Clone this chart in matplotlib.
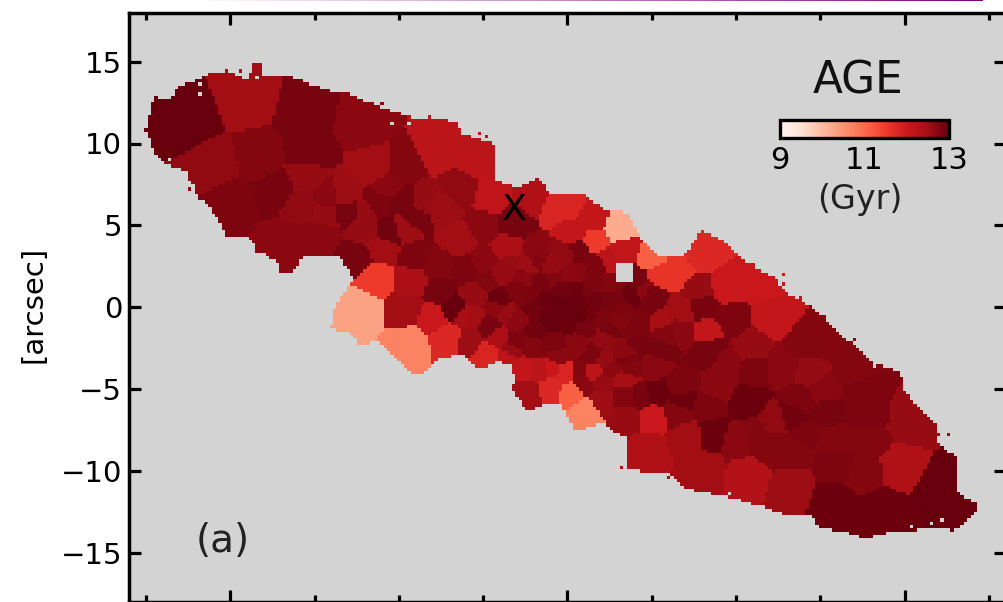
import numpy as np
import matplotlib
matplotlib.use("Agg")
import matplotlib.pyplot as plt
from matplotlib.colors import LinearSegmentedColormap
from matplotlib.path import Path

# galaxy footprint on the sky, arcsec
edge_x = [-24.5, -25.0, -24.5, -23.8, -22.7, -22.3, -21.9, -21.45, -20.55, -20.15, -18.95, -18.35, -17.2, -17.1,
          -16.4, -15.65, -13.6, -12.7, -13.45, -13.85, -14.05, -12.85, -12.4, -11.25, -10.3, -9.1, -8.6, -7.65,
          -6.15, -5.45, -4.7, -4.1, -3.4, -3.1, -3.25, -2.5, -2.05, -1.5, -0.4, 0.45, 1.2, 2.15, 3.0, 3.55,
          3.55, 3.25, 5.9, 6.85, 9.5, 11.6, 13.2, 14.55, 14.8, 16.6, 17.75, 19.3, 23.3, 24.3, 24.35, 23.6,
          23.0, 23.0, 21.9, 21.9, 20.9, 19.9, 19.75, 18.15, 17.35, 16.35, 15.15, 14.1, 13.05, 12.2, 10.65, 9.5,
          8.0, 6.85, 5.5, 4.3, 3.75, 3.15, 2.25, 0.95, -0.4, -1.0, -1.8, -2.95, -4.25, -4.25, -6.35, -6.5,
          -7.7, -8.9, -11.1, -13.05, -14.2, -15.4, -16.25, -18.0, -18.2, -18.65, -18.9, -19.95, -21.15, -21.75,
          -23.1, -23.5]
edge_y = [12.8, 10.8, 9.4, 8.7, 8.35, 7.75, 6.5, 6.35, 5.1, 4.25, 4.25, 3.5, 2.7, 2.05,
          2.05, 3.0, 3.15, 1.75, 0.55, -0.2, -1.3, -1.6, -2.3, -2.15, -3.05, -4.15, -4.15, -3.05,
          -2.95, -3.65, -3.65, -3.35, -3.55, -4.25, -5.05, -6.3, -6.3, -6.0, -6.0, -7.5, -7.4, -7.0, -7.8, -8.0,
          -9.95, -9.95, -10.1, -11.05, -11.6, -12.2, -12.8, -12.8, -13.4, -13.8, -14.1, -13.7, -13.4, -12.4, -11.9, -11.75,
          -11.05, -9.15, -8.3, -7.2, -6.3, -4.95, -4.0, -3.4, -2.6, -1.85, -0.6, 0.25, 0.85, 1.85, 2.7, 3.9,
          4.7, 3.05, 3.05, 4.25, 5.5, 5.9, 5.9, 6.85, 6.85, 6.95, 7.85, 7.3, 7.75, 9.9, 10.6, 11.3,
          11.5, 11.5, 12.2, 13.05, 13.2, 13.65, 14.0, 14.15, 14.9, 14.9, 13.85, 14.35, 14.25, 13.95,
          13.4, 12.6]
hole_x = [2.95, 3.9, 3.9, 2.95]
hole_y = [2.75, 2.75, 1.5, 1.5]

# loose spaxels just off the rim, and gaps just inside it
speck_x = [-24.4, -24.6, -24.8, -25.0, -24.4, -24.35, -23.7, -22.35, -22.35, -21.9, -21.75, -20.15, -19.25, -18.5,
           -19.35, -20.15, -20.75, -13.15, -10.95, -12.25, -5.15, -4.7, -8.1, 12.75, 12.75, 11.0, 13.8, 15.15,
           16.35, 16.95, 19.45, 22.1, 22.55, 22.8, 16.65, 17.75, 3.3, 6.0, 7.15, 24.15, -13.6, -12.4, -8.85]
speck_y = [12.8, 12.15, 11.4, 10.7, 10.8, 9.7, 8.85, 7.8, 7.15, 6.7, 7.6, 4.5, 4.45, 3.35,
           14.35, 14.35, 14.15, 12.95, 12.3, 12.3, 10.55, 10.35, 11.6, 1.95, 1.35, 2.7, 0.55, -0.6,
           -2.0, -2.0, -4.15, -7.85, -7.85, -13.6, -13.7, -14.0, -9.8, -10.35, -10.55, -12.05, -1.4, -2.2, -4.0]
gap_x = [-21.9, -21.75, -18.5, -10.35, -9.3, -23.5, 9.65, 4.2, 22.3, 21.7, 20.45, 18.15]
gap_y = [12.95, 13.55, 13.95, 11.2, 11.2, 8.95, -11.3, -9.95, -13.0, -13.15, -13.3, -3.7]

# large outer bins: centre and age (Gyr)
bin_x = [-22.35, -19.05, -15.5, -12.1, -20.85, -18.35, -15.2, -11.5, -15.35, -19.8, -17.3, -15.8, -16.6, -14.35,
         -14.2, -13.25, -13.05, -12.1, -12.1, -14.65, -12.55, -11.25, -10.5, -9.7, -9.7, -8.55, -7.4, -9.1,
         -10.65, -9.7, -7.7, -5.35, -6.35, -4.55, -2.05, -3.2, -5.0, -0.6, -11.25, -9.3, -9.1, -10.9, -7.7,
         -7.5, -6.35, -5.9, -3.55, -1.8, -12.25, -9.4, -9.5, -8.0, -7.05, -6.75, -5.75, -5.55, -4.75, -4.15,
         -2.95, -3.5, -2.65, -2.3, -1.6, -0.9, -1.0, -0.1, 0.2, 1.05, 0.65, 1.5, 2.15, 3.55, 5.05, 3.3,
         2.55, 3.3, 4.3, 5.35, 6.85, 6.7, 6.5, 8.3, 8.65, 10.05, 7.1, 4.75, 8.05, 10.7, 13.2, 15.75,
         18.7, 17.55, 16.0, 13.4, 19.75, 22.1, 20.3, 17.75, 15.75, 14.0, 12.2, 11.25, 12.2, 10.65, 13.4, 15.4,
         13.8, 15.15, 14.4, 17.35, 17.75, 15.4, 16.95, 14.2, 12.2, 10.85, 12.8, 11.0, 9.65, 8.3, 8.45, 9.5,
         8.9, 6.85, 5.5, 7.9, 5.5, 4.1, 3.55, 8.05, 6.5, 4.9, 5.35, 3.15, 1.55, 1.35, 0.2, 0.35,
         3.45, 2.15, 0.75, 7.7, 9.5, 11.45, 4.9, 4.15]
bin_y = [11.4, 12.6, 11.7, 11.0, 8.65, 9.15, 9.4, 8.55, 7.9, 6.5, 7.0, 6.1, 4.1, 5.6,
         6.7, 6.85, 5.8, 5.75, 4.7, 4.5, 3.05, 6.35, 4.6, 4.8, 6.5, 6.5, 6.1, 5.5,
         7.3, 8.55, 9.55, 8.95, 7.15, 6.7, 6.7, 5.1, 4.9, 6.1, 1.85, 1.65, 3.05, 3.5, 2.45,
         0.85, 4.1, 2.25, 3.65, 3.3, -0.2, -2.2, -0.2, -0.6, -1.9, -0.05, -2.0, -0.6, -2.9, -1.8,
         -2.0, -3.1, -3.7, -5.25, -3.85, -3.7, -5.05, -4.0, -5.25, -6.4, -3.95, -3.95, -5.65, -6.7, -6.7, -4.45,
         -3.85, -5.5, -5.5, -5.25, -5.65, -4.9, -6.45, -6.1, -7.7, -8.1, -7.9, -8.7, -9.95, -10.35, -11.05, -12.0,
         -12.4, -10.05, -9.5, -8.7, -9.75, -11.0, -7.05, -8.1, -8.1, -7.7, -8.55, -7.7, -7.05, -5.8, -6.7, -6.45,
         -5.65, -5.05, -4.0, -5.05, -6.7, -2.2, -4.0, -2.2, -0.6, -2.45, -3.65, -3.85, -0.8, -1.5, -2.6, -3.4,
         -4.9, -0.3, -0.8, 0.0, -2.6, -2.2, -3.4, 3.3, 2.05, 3.0, 1.85, 4.7, 3.95, 5.5, 6.1, 4.5,
         3.5, 2.85, 3.5, 1.05, 1.2, 1.45, 0.85, 1.65]
bin_age = [13.0, 12.5, 12.85, 12.7, 12.65, 12.75, 12.85, 12.5, 12.6, 12.8, 12.85, 12.65, 12.7, 12.6,
           12.7, 12.55, 12.85, 12.6, 12.6, 12.7, 12.85, 12.8, 12.9, 12.55, 12.85, 12.6, 12.55, 12.85,
           12.7, 12.75, 12.2, 12.2, 12.65, 12.15, 12.35, 12.85, 12.7, 11.8, 11.5, 12.4, 12.8, 12.5, 12.75,
           12.85, 12.5, 12.8, 12.4, 12.7, 10.3, 10.7, 12.5, 12.0, 11.75, 13.0, 12.55, 12.5, 11.8, 12.4,
           12.8, 12.2, 12.1, 12.5, 12.2, 12.0, 11.75, 11.8, 11.1, 10.7, 12.75, 12.2, 12.55, 12.6, 12.0, 12.45,
           12.7, 12.75, 12.85, 12.95, 12.95, 12.8, 12.75, 12.8, 12.95, 12.7, 12.5, 12.35, 12.5, 12.3, 12.55, 12.95,
           12.95, 12.75, 12.8, 12.75, 12.35, 13.0, 12.6, 12.75, 12.75, 12.8, 12.75, 12.75, 12.65, 12.95, 12.9, 12.85,
           12.8, 12.7, 12.6, 12.8, 12.8, 12.75, 12.75, 12.75, 12.1, 12.6, 12.7, 12.8, 12.8, 12.1, 12.85, 12.7,
           12.7, 12.5, 12.45, 12.85, 12.85, 12.85, 12.8, 11.75, 11.6, 11.1, 11.6, 10.2, 11.5, 12.1, 11.8, 12.1,
           12.1, 12.2, 12.85, 12.6, 12.0, 12.0, 12.85, 12.85]

# small central bins
core_x = [-4.0, -3.0, -4.0, -2.5, -1.5, -2.0, -3.0, -1.0, 0.0, 0.5, -0.5, 0.8, 1.5, 0.0, 1.0, 2.0, 1.6, 0.3, -1.0, 2.7,
          3.0, 2.2, 0.6, -0.8, 3.7, 4.0, -5.5, -6.0, -4.8, -1.9, -0.4, 0.4, 1.2, -1.3, -2.7, 2.5, 0.2, -0.2, 0.9, -3.7,
          2.1, 0.9, 2.1, 4.3, 4.8, 5.8, 6.7, -2.4, -1.2, 0.1, 1.4, 2.6, 3.4, -3.3, -4.6, -5.0, -3.4, -1.7, -0.3, 1.9,
          3.3, 4.6, 5.2, 3.6, 1.5, -0.6, -2.2, -4.2, 0.5, -0.9]
core_y = [2.0, 1.0, 0.5, 2.5, 1.5, 0.0, -0.8, -0.8, 0.0, 1.0, 1.0, -0.4, 0.4, -1.0, -1.3, -0.7, 1.5, 2.0, 2.6, 0.5,
          -0.9, -2.0, -2.2, -2.2, 0.5, -1.5, 0.8, -0.6, 1.6, -1.4, 0.5, 0.4, 0.9, 0.4, 1.9, 1.3, -0.5, -0.3, 0.3, -0.4,
          -4.6, -4.6, -3.2, -0.8, 0.1, -1.7, -1.4, 0.7, -0.2, 0.9, -0.3, -1.3, -2.7, -2.7, -1.2, 2.7, 2.4, 3.0, 3.2, 2.7,
          -0.1, 1.1, -3.6, -3.6, -2.9, -3.1, -2.4, -0.1, 0.0, 1.7]
core_age = [12.6, 12.8, 12.95, 12.55, 12.85, 12.9, 12.7, 13.0, 13.0, 12.95, 12.9, 13.0, 12.9, 12.95, 12.85, 12.8, 12.8,
            12.7, 12.6, 12.85, 12.75, 12.65, 12.7, 12.8, 12.95, 12.8, 12.6, 12.45, 12.75, 12.9, 13.0, 12.95, 12.85,
            12.95, 12.7, 12.75, 13.0, 13.0, 12.95, 12.6,
            12.6, 12.7, 12.6, 12.8, 12.85, 12.75, 12.7, 12.8, 12.95, 12.9, 12.9, 12.85, 12.7, 12.6, 12.85, 12.7, 12.6,
            12.75, 12.65, 12.8, 12.8, 12.7, 12.7, 12.75, 12.8, 12.7, 12.75, 12.7, 13.0, 12.75]

y_ticks = [-15, -10, -5, 0, 5, 10, 15]
cbar_ticks = [9, 11, 13]

W, H = 1004, 602
fig = plt.figure(figsize=(W / 100, H / 100), dpi=100)
ax = fig.add_axes([129 / W, 0, 877 / W, 589.5 / H])
ax.set_facecolor("#d3d3d3")

# spaxel grid, every spaxel takes the age of its nearest bin
spax = 0.2
gx = np.arange(-26, 26 + spax, spax)
gy = np.arange(-18, 18 + spax, spax)
xx, yy = np.meshgrid(gx, gy)
pts = np.column_stack([xx.ravel(), yy.ravel()])
inside = Path(np.column_stack([edge_x, edge_y])).contains_points(pts).reshape(xx.shape)
inside &= ~Path(np.column_stack([hole_x, hole_y])).contains_points(pts).reshape(xx.shape)


def grid_index(x, y):
    return np.round((np.array(y) + 18) / spax).astype(int), np.round((np.array(x) + 26) / spax).astype(int)


inside[grid_index(speck_x, speck_y)] = True
inside[grid_index(gap_x, gap_y)] = False

cx = np.array(bin_x + core_x)
cy = np.array(bin_y + core_y)
ages = np.array(bin_age + core_age)
dist = (pts[:, 0, None] - cx) ** 2 + (pts[:, 1, None] - cy) ** 2
age_map = ages[dist.argmin(axis=1)].reshape(xx.shape)
age_map = np.ma.masked_where(~inside, age_map)

im = ax.imshow(age_map, origin="lower", extent=[-26.1, 26.1, -18.1, 18.1], cmap="Reds", vmin=9, vmax=13,
               interpolation="nearest", aspect="auto")
ax.set_xlim(-26, 26)
ax.set_ylim(-18, 18)

ax.set_xticks(np.arange(-20, 21, 20))
ax.set_xticks(np.arange(-25, 26, 5), minor=True)
ax.set_yticks(y_ticks)
ax.tick_params(axis="both", which="major", direction="in", top=True, right=True, length=8.5, width=2.3,
               labelsize=21, pad=5)
ax.tick_params(axis="both", which="minor", direction="in", top=True, length=5, width=2.3)
ax.tick_params(axis="x", which="both", labelbottom=False)
for spine in ax.spines.values():
    spine.set_linewidth(2.5)
ax.set_ylabel("[arcsec]", fontsize=21, labelpad=10)
ax.yaxis.set_label_coords(-81 / 877, 0.505)

ax.text(-3.15, 5.95, "X", fontsize=26, ha="center", va="center", color="black")
ax.text(-20.45, -14.3, "(a)", fontsize=28, ha="center", va="center", color="#222222")
ax.text(17.2, 13.8, "AGE", fontsize=31.5, ha="center", va="center", color="#111111")
ax.text(17.35, 6.6, "(Gyr)", fontsize=24, ha="center", va="center", color="#222222")

cax = fig.add_axes([780 / W, (H - 137.5) / H, 169 / W, 18 / H])
cbar = fig.colorbar(im, cax=cax, orientation="horizontal", ticks=cbar_ticks)
cbar.outline.set_linewidth(2.4)
cbar.ax.tick_params(length=0, labelsize=22, pad=6)

# thin coloured rule cut off at the top of the page
rule = fig.add_axes([190 / W, (H - 1.5) / H, 793 / W, 1.5 / H])
rule.imshow(np.linspace(0, 1, 256)[None, :], aspect="auto",
            cmap=LinearSegmentedColormap.from_list("rule", ["white", "purple"]))
rule.axis("off")

fig.savefig("out.png", dpi=100)
plt.close(fig)
